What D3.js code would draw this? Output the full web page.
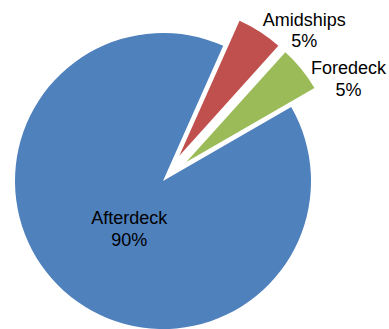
<!DOCTYPE html>
<html>
<head>
<meta charset="utf-8">
<script src="https://cdn.jsdelivr.net/npm/d3@7"></script>
<style>
  html, body { margin: 0; padding: 0; background: #fff; }
  svg { display: block; }
  text { font-family: "Liberation Sans", Arial, sans-serif; font-size: 18px; fill: #000; }
</style>
</head>
<body>
<script>
// data
let categories = ["Afterdeck", "Amidships", "Foredeck"];
let values = [90, 5, 5];
let labels = ["90%", "5%", "5%"];
let colors = ["#4F81BD", "#C0504D", "#9BBB59"];

let w = 389, h = 329;
let cx = 163, cy = 181, r = 148;
let explode = [0, 30, 30];
// label placement: distance from center and small angle nudge (degrees)
let labelDist = [58, 207, 212];
let labelNudge = [-6.5, 10, 10];

let rad = Math.PI / 180;

let svg = d3.select("body").append("svg").attr("width", w).attr("height", h);
let g = svg.append("g").attr("transform", "translate(" + cx + "," + cy + ")");

let pie = d3.pie().sort(null).value(d => d)
  .startAngle(60 * rad).endAngle(420 * rad);
let arcs = pie(values);

let arc = d3.arc().innerRadius(0).outerRadius(r);

g.selectAll("path.slice")
  .data(arcs)
  .enter().append("path")
    .attr("class", "slice")
    .attr("d", arc)
    .attr("fill", (d, i) => colors[i])
    .attr("transform", (d, i) => {
      let a = (d.startAngle + d.endAngle) / 2;
      return "translate(" + (Math.sin(a) * explode[i]) + "," + (-Math.cos(a) * explode[i]) + ")";
    });

let lab = g.selectAll("text.lbl")
  .data(arcs)
  .enter().append("text")
    .attr("class", "lbl")
    .attr("text-anchor", "middle")
    .attr("transform", (d, i) => {
      let a = (d.startAngle + d.endAngle) / 2 + labelNudge[i] * rad;
      return "translate(" + (Math.sin(a) * labelDist[i]) + "," + (-Math.cos(a) * labelDist[i]) + ")";
    });

lab.append("tspan").attr("x", 0).attr("dy", -4).text((d, i) => categories[i]);
lab.append("tspan").attr("x", 0).attr("dy", 21.5).text((d, i) => labels[i]);
</script>
</body>
</html>
